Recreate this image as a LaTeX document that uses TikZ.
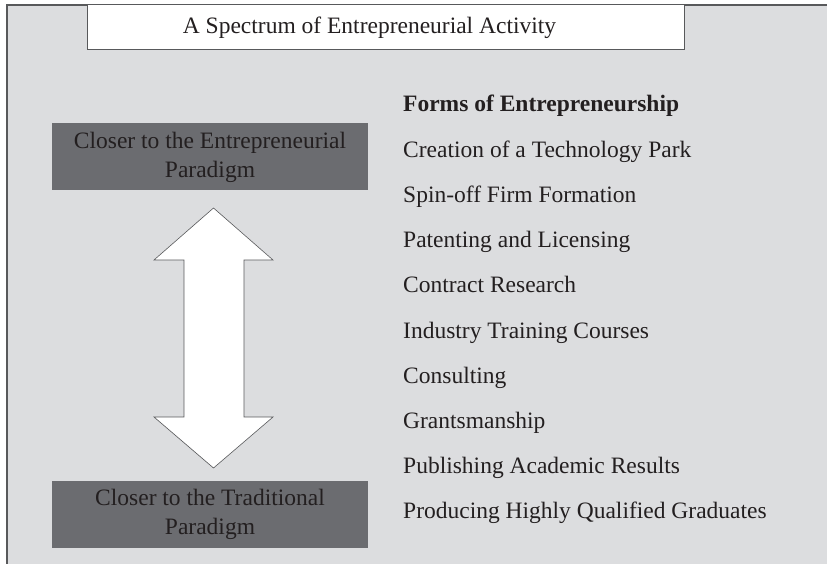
\documentclass[tikz,border=0pt]{standalone}
\usepackage{fontspec}
\setmainfont{Liberation Serif}
\usepackage{tikz}
\usetikzlibrary{positioning,calc}
\definecolor{panel}{HTML}{DCDDDF}
\definecolor{shade}{HTML}{6B6C70}
\definecolor{ink}{HTML}{231F20}
\definecolor{rule}{HTML}{58595B}

\begin{document}
\begin{tikzpicture}[x=1pt,y=-1pt,font=\fontsize{23.5}{29}\selectfont,text=ink,
  pole/.style={fill=shade,minimum width=316pt,minimum height=67pt,align=center,inner sep=0pt},
  form/.style={anchor=base west,inner sep=0pt}]
 \useasboundingbox (0,0) rectangle (827,564);
 \draw[rule,line width=1.2pt,fill=panel] (7,5) rectangle (860,600);
 \node[draw=rule,line width=1pt,fill=white,minimum width=597pt,minimum height=45pt,inner sep=0pt] (title) at (385.5,27.5) {A Spectrum of Entrepreneurial Activity\hspace*{32pt}};
 \node[pole] (entre) at (210,157) {Closer to the Entrepreneurial\\Paradigm};
 \node[pole] (trad) at (210,514) {Closer to the Traditional\\Paradigm};
 % two-headed block arrow between the poles
 \draw[rule,line width=0.6pt,fill=white,line join=miter]
   (213.5,208)--(273,260)--(244,260)--(244,417)--(273,417)--(213.5,468)
   --(154,417)--(184,417)--(184,260)--(154,260)--cycle;
 \node[form,font=\fontsize{23.5}{29}\selectfont\bfseries] (head) at (403,112) {Forms of Entrepreneurship};
 \foreach \k/\lab in {1/{Creation of a Technology Park},2/{Spin-off Firm Formation},
   3/{Patenting and Licensing},4/{Contract Research},5/{Industry Training Courses},
   6/{Consulting},7/{Grantsmanship},8/{Publishing Academic Results},
   9/{Producing Highly Qualified Graduates}} {
  \node[form] (f\k) at (403,112+45.2*\k) {\lab};
 }
\end{tikzpicture}
\end{document}
